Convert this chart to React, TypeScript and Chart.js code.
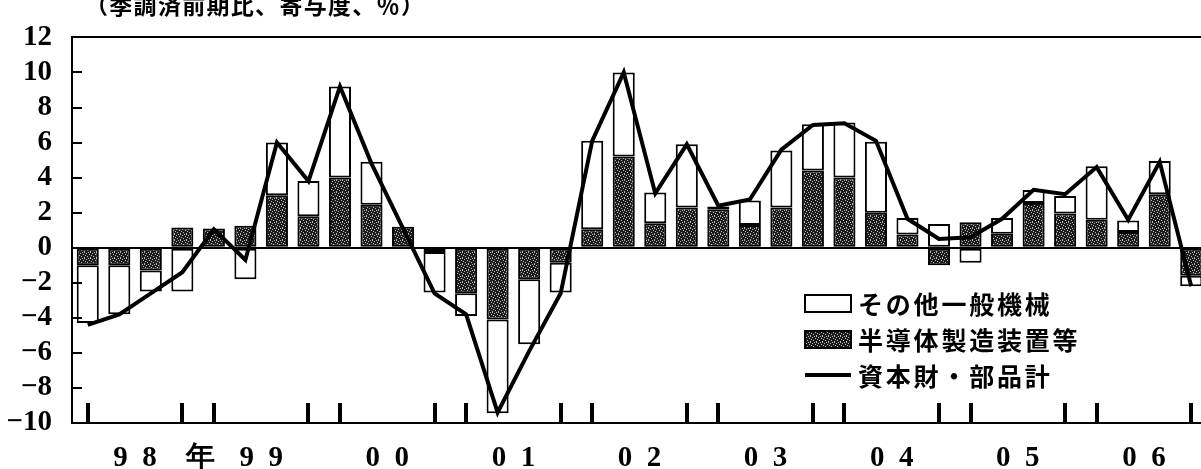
import React, { useEffect, useRef } from 'react';
import { Chart, registerables } from 'chart.js';

Chart.register(...registerables);

// Quarterly categories, 1998 Q1 – 2006 Q4
const quarters = [
  '98/1', '98/2', '98/3', '98/4',
  '99/1', '99/2', '99/3', '99/4',
  '00/1', '00/2', '00/3', '00/4',
  '01/1', '01/2', '01/3', '01/4',
  '02/1', '02/2', '02/3', '02/4',
  '03/1', '03/2', '03/3', '03/4',
  '04/1', '04/2', '04/3', '04/4',
  '05/1', '05/2', '05/3', '05/4',
  '06/1', '06/2', '06/3', '06/4',
];

const yearLabels = ['98年', '99', '00', '01', '02', '03', '04', '05', '06'];

// 半導体製造装置等 (dark)
const semiconductor = [
  -1.0, -1.0, -1.3, 1.15,
  1.1, 1.25, 3.0, 1.8,
  4.0, 2.45, 1.2, -0.25,
  -2.6, -4.1, -1.8, -0.85,
  1.05, 5.2, 1.4, 2.3,
  2.2, 1.3, 2.3, 4.4,
  4.0, 2.0, 0.75, -1.0,
  1.45, 0.8, 2.55, 1.95,
  1.6, 0.9, 3.05, -1.6,
];

// その他一般機械 (white)
const otherMachinery = [
  -3.3, -2.8, -1.2, -2.5,
  0, -1.8, 3.0, 2.0,
  5.2, 2.45, 0, -2.3,
  -1.3, -5.35, -3.7, -1.7,
  5.05, 4.8, 1.75, 3.6,
  0.15, 1.4, 3.25, 2.65,
  3.15, 4.05, 0.95, 1.35,
  -0.85, 0.9, 0.75, 1.0,
  3.05, 0.65, 1.9, -0.6,
];

// 資本財・部品計 (line)
const capitalTotal = [
  -4.4, -3.8, -2.6, -1.4,
  1.05, -0.7, 6.0, 3.8,
  9.2, 4.8, 1.1, -2.6,
  -3.8, -9.4, -5.9, -2.6,
  6.1, 10.0, 3.1, 5.9,
  2.4, 2.75, 5.6, 7.0,
  7.1, 6.1, 1.65, 0.5,
  0.6, 1.65, 3.3, 3.05,
  4.6, 1.6, 4.9, -2.2,
];

const yTickValues = [-10, -8, -6, -4, -2, 0, 2, 4, 6, 8, 10, 12];
const markedQuarters = ['1', '4'];
const legendLabels = ['その他一般機械', '半導体製造装置等', '資本財・部品計'];
const titleText = '（季調済前期比、寄与度、％）';

const SERIF = '"Liberation Serif", "Times New Roman", serif';
const CJK = '"Noto Sans CJK JP", "Noto Sans CJK SC", sans-serif';

// stipple texture for the dark bars
const STIPPLE = ['100010', '001000', '000001', '010000', '000100', '100000'];

function formatYear(label: string): string {
  const digits = label.replace(/[^0-9]/g, '');
  const suffix = label.replace(/[0-9]/g, '');
  const spaced = digits.split('').join('\u2002');
  if (!suffix) return spaced;
  return '\u2002\u2002\u2002\u2002' + spaced + '\u2002\u2002' + suffix;
}

export default function App() {
  const ref = useRef<HTMLCanvasElement>(null);

  useEffect(() => {
    const canvas = ref.current;
    if (!canvas) return;

    const pc = document.createElement('canvas');
    pc.width = STIPPLE[0].length;
    pc.height = STIPPLE.length;
    const p = pc.getContext('2d')!;
    p.fillStyle = '#1c1c1c';
    p.fillRect(0, 0, pc.width, pc.height);
    p.fillStyle = '#b8b8b8';
    STIPPLE.forEach((row, yy) =>
      row.split('').forEach((c, xx) => {
        if (c === '1') p.fillRect(xx, yy, 1, 1);
      })
    );
    const pattern = canvas.getContext('2d')!.createPattern(pc, 'repeat')!;

    const decorations = {
      id: 'decorations',
      afterDatasetsDraw(chart: any) {
        const { ctx, chartArea, scales } = chart;
        ctx.save();
        ctx.strokeStyle = '#000';
        // inward y ticks
        ctx.lineWidth = 2;
        ctx.beginPath();
        yTickValues.forEach((v) => {
          const py = Math.round(scales.y.getPixelForValue(v));
          ctx.moveTo(chartArea.left, py);
          ctx.lineTo(chartArea.left + 10, py);
        });
        ctx.stroke();
        // x ticks (Q1 and Q4)
        ctx.lineWidth = 4;
        ctx.beginPath();
        quarters.forEach((q, i) => {
          const qn = q.split('/')[1];
          if (markedQuarters.includes(qn)) {
            const px = Math.round(scales.x.getPixelForValue(i));
            ctx.moveTo(px, chartArea.bottom);
            ctx.lineTo(px, chartArea.bottom - 20);
          }
        });
        ctx.stroke();
        ctx.restore();
      },
      afterDraw(chart: any) {
        const { ctx } = chart;
        ctx.save();
        ctx.fillStyle = '#000';
        // title
        ctx.font = `bold 23px ${CJK}`;
        (ctx as any).letterSpacing = '1.3px';
        ctx.textBaseline = 'middle';
        ctx.textAlign = 'left';
        ctx.fillText(titleText, 85, 5);

        // legend
        const lx = 805;
        const lw = 46;
        const rows = [303, 339, 375];
        ctx.lineWidth = 2;
        ctx.strokeStyle = '#000';
        ctx.fillStyle = '#fff';
        ctx.fillRect(lx, rows[0] - 8, lw, 17);
        ctx.strokeRect(lx, rows[0] - 8, lw, 17);
        ctx.fillStyle = pattern;
        ctx.fillRect(lx, rows[1] - 8, lw, 17);
        ctx.strokeRect(lx, rows[1] - 8, lw, 17);
        ctx.lineWidth = 4;
        ctx.beginPath();
        ctx.moveTo(lx, rows[2]);
        ctx.lineTo(lx + lw, rows[2]);
        ctx.stroke();

        ctx.fillStyle = '#000';
        ctx.font = `bold 25px ${CJK}`;
        (ctx as any).letterSpacing = '2.8px';
        legendLabels.forEach((t, i) => {
          ctx.fillText(t, 858, rows[i] + 1);
        });
        ctx.restore();
      },
    };

    const chart = new Chart(canvas, {
      type: 'bar',
      data: {
        labels: quarters,
        datasets: [
          {
            type: 'line',
            label: legendLabels[2],
            data: capitalTotal,
            borderColor: '#000',
            borderWidth: 4,
            pointRadius: 0,
            tension: 0,
            fill: false,
            stack: 'total',
            order: 0,
            xAxisID: 'x',
            yAxisID: 'y',
          } as any,
          {
            type: 'bar',
            label: legendLabels[1],
            data: semiconductor,
            backgroundColor: pattern as any,
            borderColor: '#000',
            borderWidth: 2,
            borderSkipped: false,
            barPercentage: 0.7,
            categoryPercentage: 1,
            stack: 'bars',
            order: 1,
            xAxisID: 'x',
            yAxisID: 'y',
          },
          {
            type: 'bar',
            label: legendLabels[0],
            data: otherMachinery,
            backgroundColor: '#fff',
            borderColor: '#000',
            borderWidth: 2,
            borderSkipped: false,
            barPercentage: 0.7,
            categoryPercentage: 1,
            stack: 'bars',
            order: 1,
            xAxisID: 'x',
            yAxisID: 'y',
          },
        ],
      },
      options: {
        responsive: false,
        animation: false,
        devicePixelRatio: 1,
        layout: { padding: { top: 27, left: 0, right: 1, bottom: 0 } },
        plugins: {
          legend: { display: false },
          tooltip: { enabled: false },
          title: { display: false },
        },
        scales: {
          x: {
            type: 'category',
            stacked: true,
            offset: true,
            grid: { display: false, drawTicks: false },
            ticks: { display: false },
            border: { display: true, color: '#000', width: 2 },
            afterFit: (s: any) => {
              s.height = 0;
            },
          },
          x2: {
            type: 'linear',
            position: 'bottom',
            offset: false,
            min: -0.5,
            max: quarters.length - 0.5,
            grid: { display: false, drawTicks: false, offset: false },
            border: { display: false },
            afterBuildTicks: (s: any) => {
              s.ticks = yearLabels.map((_, k) => ({ value: 4 * k + 1.5 }));
            },
            afterFit: (s: any) => {
              s.height = 46;
            },
            ticks: {
              autoSkip: false,
              maxRotation: 0,
              padding: 18,
              color: '#000',
              font: { family: SERIF, size: 29, weight: 'bold' },
              callback: (_v: any, i: number) => formatYear(yearLabels[i]),
            },
          },
          y: {
            stacked: true,
            min: -10,
            max: 12,
            afterFit: (s: any) => {
              s.width = 72;
            },
            afterBuildTicks: (s: any) => {
              s.ticks = yTickValues.map((v) => ({ value: v }));
            },
            ticks: {
              autoSkip: false,
              padding: 20,
              color: '#000',
              font: { family: SERIF, size: 29, weight: 'bold' },
              callback: (v: any) => (Number(v) < 0 ? '\u2212' + Math.abs(Number(v)) : String(v)),
            },
            grid: {
              drawTicks: false,
              lineWidth: 2,
              color: (c: any) =>
                c.tick && (c.tick.value === 0 || c.tick.value === 12) ? '#000' : 'rgba(0,0,0,0)',
            },
            border: { display: true, color: '#000', width: 2 },
          },
        },
      },
      plugins: [decorations],
    });

    return () => {
      chart.destroy();
    };
  }, []);

  return (
    <div
      style={{
        position: 'fixed',
        left: 0,
        top: 0,
        width: 1201,
        height: 469,
        overflow: 'hidden',
        background: '#fff',
      }}
    >
      <canvas ref={ref} width={1208} height={469} style={{ display: 'block', width: 1208, height: 469 }} />
    </div>
  );
}
